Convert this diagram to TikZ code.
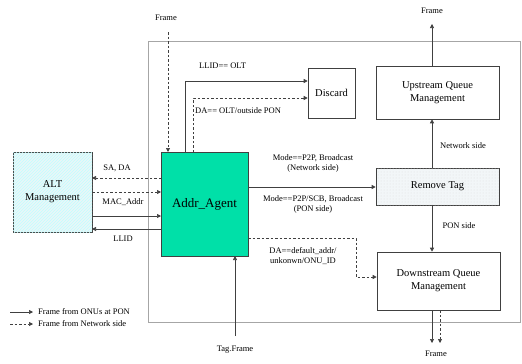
\documentclass[tikz,border=0pt]{standalone}
\usepackage{fontspec}
\setmainfont{Liberation Serif}
\usetikzlibrary{arrows.meta,patterns}
\definecolor{agent}{HTML}{00E0A8}
\definecolor{altfill}{HTML}{EAF6F8}
\definecolor{tagfill}{HTML}{F2F6F8}
\definecolor{ln}{HTML}{404040}
\tikzset{
  box/.style={draw=ln, line width=0.6pt, inner sep=0pt},
  lbl/.style={font=\rmfamily\fontsize{8.5}{10}\selectfont, inner sep=0pt, align=center},
  big/.style={font=\rmfamily\fontsize{10.5}{13}\selectfont, align=center},
  arr/.style={draw=ln, line width=0.7pt, -{Triangle[length=4pt,width=4pt]}},
  darr/.style={arr, dash pattern=on 2.5pt off 2pt},
}
\begin{document}
\begin{tikzpicture}[x=1pt,y=-1pt]
\useasboundingbox (0,0) rectangle (522,364);
% outer frame
\draw[draw=gray!70, line width=0.6pt] (148,41) rectangle (520,322);
% boxes
\path[box, fill=altfill, postaction={pattern=north east lines, pattern color=cyan!25}] (13,152) rectangle (92,232);
\node[big] (alt) at (52.5,192) {ALT\\Management};
\path[box, fill=agent] (161,152) rectangle (248,256);
\node[font=\rmfamily\fontsize{13}{15}\selectfont] (agent) at (204.5,204) {Addr\_Agent};
\node[box, minimum width=47pt, minimum height=50pt, big] (discard) at (331.5,93) {Discard};
\node[box, minimum width=123pt, minimum height=53pt, big] (up) at (437.5,92.5) {Upstream Queue\\Management};
\node[box, fill=tagfill, minimum width=123pt, minimum height=37pt, big,
  postaction={pattern=dots, pattern color=gray!25}] (tag) at (437.5,186.5) {Remove Tag};
\node[box, minimum width=123pt, minimum height=58pt, big] (down) at (438.5,281) {Downstream Queue\\Management};
% named helper coordinates
\coordinate (fr1) at (168,32);
\coordinate (fr2) at (432,24);
\coordinate (fr3) at (432,343);
\coordinate (fr4) at (440,343);
\coordinate (tf) at (235,336);
% Frame top left
\node[lbl] (frameA) at (166,18) {Frame};
\draw[darr] (fr1) -- (168,152);
% to discard
\draw[arr] (185,152) |- (discard.west |- 0,81);
\draw[darr] (193,152) |- (discard.west |- 0,98);
\node[lbl, anchor=west] (l1) at (199,66) {LLID== OLT};
\node[lbl, anchor=west] (l2) at (195,111) {DA== OLT/outside PON};
% ALT arrows
\draw[darr] (161,178) -- (92,178);
\draw[darr] (92,192) -- (161,192);
\draw[arr] (92,216) -- (161,216);
\draw[arr] (161,229) -- (92,229);
\node[lbl] (l3) at (117,168) {SA, DA};
\node[lbl] (l4) at (123,202) {MAC\_Addr};
\node[lbl] (l5) at (123,239) {LLID};
% mode arrow
\draw[arr, line width=1pt] (248,187) -- (tag.west |- 0,187);
\node[lbl] (l6) at (313,163) {Mode==P2P, Broadcast\\(Network side)};
\node[lbl] (l7) at (313,204) {Mode==P2P/SCB, Broadcast\\(PON side)};
% DA default
\draw[darr] (248,238) -- (356,238) |- (down.west |- 0,277);
\node[lbl] (l8) at (303,256) {DA==default\_addr/\\unkonwn/ONU\_ID};
% right column
\draw[arr] (tag.north -| 432,0) -- (up.south -| 432,0);
\node[lbl] (l9) at (463,146) {Network side};
\draw[arr] (tag.south -| 432,0) -- (down.north -| 432,0);
\node[lbl] (l10) at (459,226) {PON side};
\draw[arr] (up.north -| 432,0) -- (fr2);
\node[lbl] (frameB) at (432,11) {Frame};
\draw[arr] (down.south -| 432,0) -- (fr3);
\draw[darr] (down.south -| 440,0) -- (fr4);
\node[lbl] (frameC) at (436,354) {Frame};
% tag frame
\draw[arr] (tf) -- (235,256);
\node[lbl] (l11) at (235,350) {Tag.Frame};
% legend
\coordinate (g1) at (10,312); \coordinate (g2) at (33,312);
\coordinate (g3) at (10,324); \coordinate (g4) at (33,324);
\draw[arr] (g1) -- (g2);
\draw[darr] (g3) -- (g4);
\node[lbl, anchor=west] (g5) at (38,312) {Frame from ONUs at PON};
\node[lbl, anchor=west] (g6) at (38,324) {Frame from Network side};
\end{tikzpicture}
\end{document}
